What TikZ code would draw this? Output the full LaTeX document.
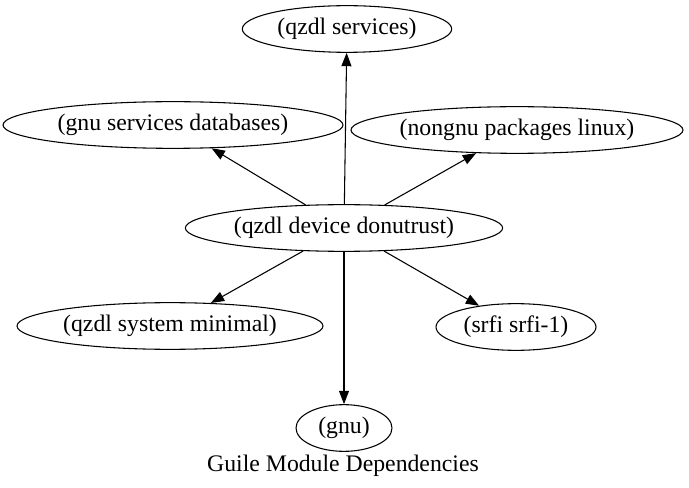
\documentclass[tikz,border=0pt]{standalone}
\usepackage{fontspec}
\setmainfont{Liberation Serif}
\usetikzlibrary{arrows.meta,shapes.geometric}

\begin{document}
\begin{tikzpicture}[
    x=0.75pt, y=-0.75pt,
    modnode/.style={
      ellipse,
      draw,
      line width=0.8pt,
      inner sep=0pt,
      minimum height=35pt,
      font=\fontsize{17.8}{21}\selectfont
    },
    deparrow/.style={-{Triangle[length=10pt,width=7.5pt]}, line width=0.8pt}
  ]
    \useasboundingbox (0,0) rectangle (689,488);

    % modules
    \node[modnode, minimum width=157pt] (services) at (347,29) {(qzdl services)};
    \node[modnode, minimum width=255pt] (databases) at (173,125) {(gnu services databases)};
    \node[modnode, minimum width=249pt] (linux) at (517,130) {(nongnu packages linux)};
    \node[modnode, minimum width=238pt] (donutrust) at (344,228) {(qzdl device donutrust)};
    \node[modnode, minimum width=229.5pt] (minimal) at (170,326) {(qzdl system minimal)};
    \node[modnode, minimum width=120pt] (srfi) at (516,327) {(srfi srfi-1)};
    \node[modnode, minimum width=72pt] (gnu) at (344,428) {(gnu)};

    \node[font=\fontsize{17.8}{21}\selectfont] (caption) at (343,466) {Guile Module Dependencies};

    % dependencies
    \draw[deparrow] (donutrust) -- (services);
    \draw[deparrow] (donutrust) -- (databases);
    \draw[deparrow] (donutrust) -- (linux);
    \draw[deparrow] (donutrust) -- (minimal);
    \draw[deparrow] (donutrust) -- (srfi);
    \draw[deparrow] (donutrust) -- (gnu);
  \end{tikzpicture}
\end{document}
